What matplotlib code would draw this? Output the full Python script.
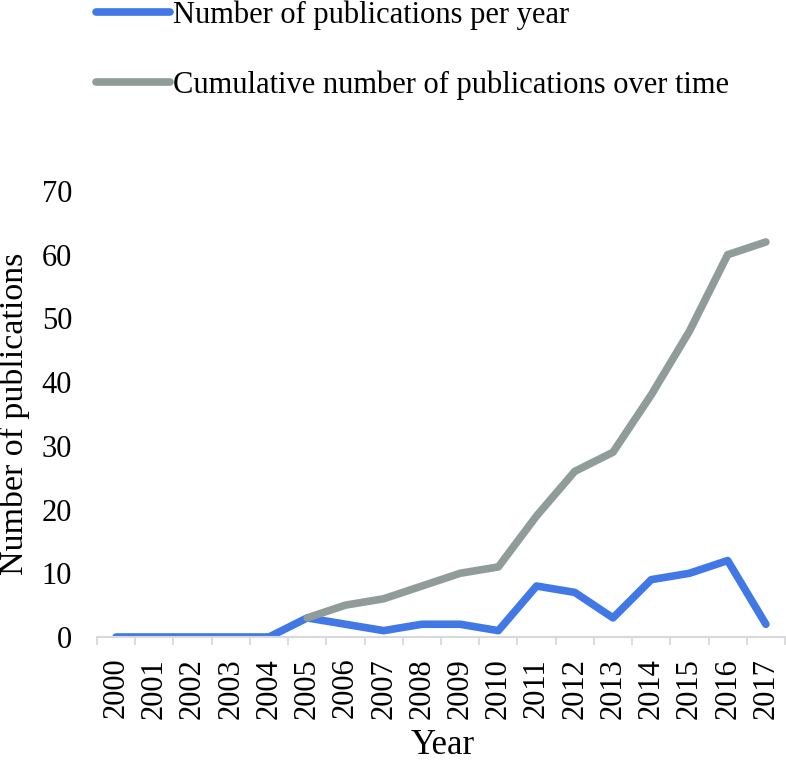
import matplotlib
matplotlib.use("Agg")
import matplotlib.pyplot as plt
import numpy as np

# Data
years = [str(y) for y in range(2000, 2018)]
per_year = [0, 0, 0, 0, 0, 3, 2, 1, 2, 2, 1, 8, 7, 3, 9, 10, 12, 2]
cum_years = [str(y) for y in range(2005, 2018)]
cumulative = [3, 5, 6, 8, 10, 11, 19, 26, 29, 38, 48, 60, 62]

plt.rcParams['font.family'] = ['Liberation Serif', 'DejaVu Serif']

blue = '#4178E6'
gray = '#8F9C9A'

fig = plt.figure(figsize=(7.86, 7.60), dpi=100)
ax = fig.add_axes([97 / 786, 1 - 637 / 760, 688 / 786, 446 / 760])

x_all = np.arange(len(years))
x_cum = np.array([years.index(y) for y in cum_years])

l1, = ax.plot(x_all, per_year, color=blue, lw=5.5, solid_capstyle='round',
              solid_joinstyle='round', label='Number of publications per year', zorder=2)
l2, = ax.plot(x_cum, cumulative, color=gray, lw=5.5, solid_capstyle='round',
              solid_joinstyle='round', label='Cumulative number of publications over time', zorder=3)

ax.set_xlim(-0.5, len(years) - 0.5)
ax.set_ylim(0, 70)
ax.set_yticks(range(0, 71, 10))
ax.tick_params(axis='y', length=0, pad=18, labelsize=22)

ax.set_xticks(x_all)
ax.set_xticklabels(years, rotation=90)
ax.tick_params(axis='x', which='major', length=0, pad=15, labelsize=22)
ax.set_xticks(np.arange(-0.5, len(years)), minor=True)
ax.tick_params(axis='x', which='minor', length=6, width=1.3, color='#D9D9D9')

for s in ['top', 'right', 'left']:
    ax.spines[s].set_visible(False)
ax.spines['bottom'].set_color('#D9D9D9')
ax.spines['bottom'].set_linewidth(1.5)

fig.text(0.019, 1 - 414 / 760, 'Number of publications', rotation=90,
         ha='center', va='center', fontsize=24.5)
fig.text(443 / 786, 1 - 745 / 760, 'Year', ha='center', va='center', fontsize=25)

fig.legend(handles=[l1, l2], loc='upper left', bbox_to_anchor=(96 / 786, 1.0),
           frameon=False, fontsize=22, handlelength=2.42, handletextpad=0.1,
           labelspacing=1.34, borderpad=0, borderaxespad=0)

fig.savefig('out.png', dpi=100)
